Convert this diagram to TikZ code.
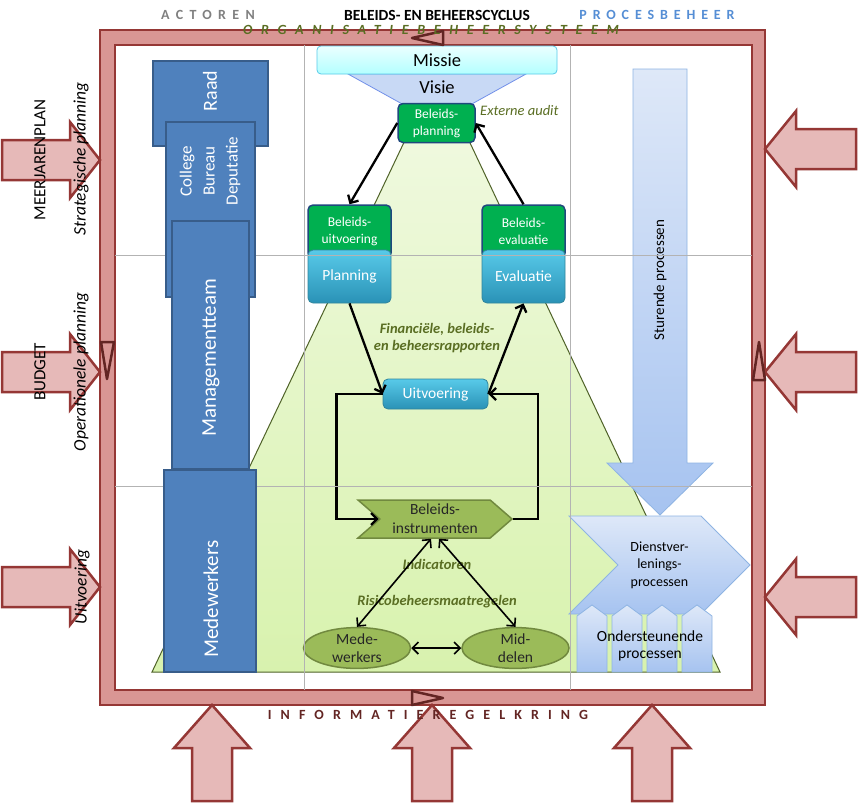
\documentclass[tikz,border=0pt]{standalone}
\usepackage{fontspec}
\setmainfont{Carlito}
\usetikzlibrary{arrows.meta, shapes.symbols, shapes.geometric}

\definecolor{kaderrood}{HTML}{D99694}
\definecolor{kaderrand}{HTML}{953735}
\definecolor{pijlroze}{HTML}{E6B9B8}
\definecolor{markrand}{HTML}{632523}
\definecolor{blokblauw}{HTML}{4F81BD}
\definecolor{blokrand}{HTML}{385D8A}
\definecolor{beleidsgroen}{HTML}{00B050}
\definecolor{beleidsrand}{HTML}{1F497D}
\definecolor{cyaanboven}{HTML}{58CAE9}
\definecolor{cyaanonder}{HTML}{2A92B6}
\definecolor{cyaanrand}{HTML}{31859C}
\definecolor{olijf}{HTML}{9BBB59}
\definecolor{olijfrand}{HTML}{71893F}
\definecolor{olijftekst}{HTML}{5A6E23}
\definecolor{lichtblauwboven}{HTML}{DEE8F8}
\definecolor{lichtblauwonder}{HTML}{A6C3F0}
\definecolor{lichtblauwrand}{HTML}{8EB4E3}
\definecolor{trapboven}{HTML}{F2FAE4}
\definecolor{trapbeneden}{HTML}{D8F2AE}
\definecolor{traprand}{HTML}{4F6228}
\definecolor{rasterlijn}{HTML}{B3B3B3}
\definecolor{procesblauw}{HTML}{558ED5}

\begin{document}
\begin{tikzpicture}[
    x=1pt, y=-1pt, % Work in pixels, y pointing down
    >={Straight Barb[length=6pt, width=12pt]}, % Default arrow tip
    cyclus/.style={->, line width=2.3pt}, % Black arrows of the cycle
    wissel/.style={<->, line width=1.6pt}, % Double arrows at the bottom
    grootpijl/.style={fill=pijlroze, draw=kaderrand, line width=2.5pt}, % Big arrows outside the frame
    merk/.style={fill=kaderrood, draw=markrand, line width=2.5pt, line join=round}, % Small triangles on the frame
    raster/.style={draw=rasterlijn, line width=1pt}, % Grid lines
    blok/.style={draw=blokrand, fill=blokblauw, line width=1.5pt, inner sep=0pt}, % Actor blocks
    bloktekst/.style={text=white, rotate=90, align=center, inner sep=0pt}, % Text on the actor blocks
    beleid/.style={draw=beleidsrand, fill=beleidsgroen, line width=1.5pt, rounded corners=5pt, text=white, align=center, inner sep=0pt, minimum width=83pt, font=\fontsize{13.5}{17}\selectfont}, % Green policy nodes
    fase/.style={top color=cyaanboven, bottom color=cyaanonder, draw=cyaanrand, line width=0.8pt, rounded corners=5pt, text=white, inner sep=0pt, font=\fontsize{15.5}{17}\selectfont}, % Blue phase nodes
    olijfvorm/.style={fill=olijf, draw=olijfrand, line width=1.5pt, align=center, inner sep=0pt, text=black!85}, % Olive shapes
    proces/.style={top color=lichtblauwboven, bottom color=lichtblauwonder, draw=lichtblauwrand, line width=0.8pt, inner sep=0pt}, % Light blue process shapes
    notitie/.style={olijftekst, font=\fontsize{14.5}{16.5}\selectfont\bfseries\itshape, align=center, inner sep=0pt}, % Italic remarks
    zijtekst/.style={rotate=90, inner sep=0pt, font=\fontsize{17}{20}\selectfont}, % Texts at the left
    kop/.style={inner sep=0pt, font=\fontsize{15.5}{17}\selectfont\bfseries} % Column headers
]

    % Canvas
    \useasboundingbox (0,0) rectangle (858,803);
    \fill[white] (0,0) rectangle (858,803);

    % Pink frame
    \fill[kaderrood, even odd rule] (100,30) rectangle (765,705) (115,45) rectangle (752,690);
    \draw[kaderrand, line width=1.5pt] (100,30) rectangle (765,705) (115,45) rectangle (752,690);

    % Green trapezium behind the cycle
    \shade[top color=trapboven, bottom color=trapbeneden, draw=traprand, line width=1pt] (437,73) -- (720,672) -- (152,672) -- cycle;

    % Mission and vision
    \draw[fill=lichtblauwboven!60!lichtblauwonder, draw=lichtblauwrand!80!blue, line width=0.8pt] (348,74) -- (526,74) -- (470,105) -- (404,105) -- cycle;
    \node[font=\fontsize{18.5}{20}\selectfont] (visie) at (437,87) {Visie};
    \node[top color=cyan!8, bottom color=cyan!30, draw=cyaanboven, line width=0.8pt, rounded corners=4pt, minimum width=240pt, minimum height=28pt, inner sep=0pt, font=\fontsize{18.5}{20}\selectfont] (missie) at (437,60) {Missie};

    % Policy cycle
    \node[beleid, minimum width=77pt, minimum height=39pt] (bplan) at (436.5,123) {Beleids-\\planning};
    \node[beleid, minimum height=53pt] (buitv) at (349.5,231.5) {Beleids-\\uitvoering};
    \node[beleid, minimum height=53pt] (beval) at (523.5,231.5) {Beleids-\\evaluatie};
    \node[fase, minimum width=83pt, minimum height=53pt] (planning) at (349.5,276.5) {Planning};
    \node[fase, minimum width=83pt, minimum height=53pt] (evaluatie) at (523.5,276.5) {Evaluatie};
    \node[fase, minimum width=105pt, minimum height=30pt] (uitv) at (435.5,394) {Uitvoering};
    \node[olijfvorm, signal, signal to=east, signal from=west, signal pointer angle=82, minimum width=154pt, minimum height=38pt, font=\fontsize{15.5}{19}\selectfont] (binstr) at (435,519) {Beleids-\\instrumenten};
    \node[olijfvorm, ellipse, minimum width=107pt, minimum height=40pt, font=\fontsize{15.5}{18}\selectfont] (mw) at (357,648) {Mede-\\werkers};
    \node[olijfvorm, ellipse, minimum width=107pt, minimum height=40pt, font=\fontsize{15.5}{18}\selectfont] (md) at (515.5,648) {Mid-\\delen};

    % Remarks
    \node[notitie, font=\fontsize{14.5}{16}\selectfont\itshape, anchor=west] (audit) at (480,111) {Externe audit};
    \node[notitie] (rapport) at (437,338) {Financiële, beleids-\\en beheersrapporten};
    \node[notitie] (indic) at (437,564) {Indicatoren};
    \node[notitie] (risico) at (437,602) {Risicobeheersmaatregelen};

    % Cycle arrows
    \draw[cyclus] (bplan.west) -- (buitv.north);
    \draw[cyclus] (beval.north) -- (bplan.east);
    \draw[cyclus] (planning.south) -- (uitv.west);
    \draw[cyclus] (uitv.east) -- (evaluatie.south);
    \draw[cyclus] (uitv.west) -- ++(-46,0) |- (binstr.west);
    \draw[cyclus] (binstr.east) -- ++(25,0) |- (uitv.east);
    \draw[wissel] ([xshift=-4pt]binstr.south) -- (mw.north);
    \draw[wissel] ([xshift=4pt]binstr.south) -- (md.north);
    \draw[wissel] (mw.east) -- (md.west);

    % Process column
    \shade[top color=lichtblauwboven, bottom color=lichtblauwonder, draw=lichtblauwrand, line width=0.8pt] (633,69) -- (687,69) -- (687,463) -- (713,463) -- (660,515) -- (607,463) -- (633,463) -- cycle;
    \node[rotate=90, inner sep=0pt, font=\fontsize{15}{16}\selectfont] (sturend) at (660,280) {Sturende processen};
    \node[proces, signal, signal to=east, signal from=west, signal pointer angle=90, minimum width=181pt, minimum height=98pt, align=center, font=\fontsize{14}{17.5}\selectfont] (dienst) at (659.5,565) {Dienstver-\\lenings-\\processen};
    \foreach \x [count=\i] in {592,627,662,697}
        \node[proces, signal, signal to=north, signal pointer angle=107, minimum width=30pt, minimum height=56pt] (onder\i) at (\x,644) {};
    \node[align=center, inner sep=0pt, font=\fontsize{15.5}{17}\selectfont] (ondertekst) at (650,646) {Ondersteunende\\processen};

    % Grid lines
    \draw[raster] (304,45) -- (304,690) (570,45) -- (570,690);
    \draw[raster] (115,255) -- (752,255) (115,486) -- (752,486);

    % Actor blocks
    \node[blok, minimum width=115pt, minimum height=85pt] (raad) at (210.5,103.5) {};
    \node[blok, minimum width=89pt, minimum height=175pt] (college) at (210.5,209.5) {};
    \node[blok, minimum width=77pt, minimum height=248pt] (mgmt) at (210.5,345) {};
    \node[blok, minimum width=92pt, minimum height=202pt] (medew) at (210,571) {};
    \node[bloktekst, font=\fontsize{20}{21}\selectfont] (raadtekst) at (210,91) {Raad};
    \node[bloktekst, font=\fontsize{17}{23}\selectfont] (collegetekst) at (210,171) {College\\Bureau\\Deputatie};
    \node[bloktekst, font=\fontsize{21}{22}\selectfont] (mgmttekst) at (211,358) {Managementteam};
    \node[bloktekst, font=\fontsize{21}{22}\selectfont] (medewtekst) at (211,599) {Medewerkers};

    % Big arrows around the frame
    \foreach \y in {160,372,587}
        \draw[grootpijl] (2,\y-20) -- (70,\y-20) -- (70,\y-38) -- (100,\y) -- (70,\y+38) -- (70,\y+20) -- (2,\y+20) -- cycle;
    \foreach \y in {149,372,597}
        \draw[grootpijl] (856,\y-20) -- (796,\y-20) -- (796,\y-38) -- (765,\y) -- (796,\y+38) -- (796,\y+20) -- (856,\y+20) -- cycle;
    \foreach \x in {212,432,652}
        \draw[grootpijl] (\x-20,801) -- (\x-20,748) -- (\x-38,748) -- (\x,705) -- (\x+38,748) -- (\x+20,748) -- (\x+20,801) -- cycle;

    % Direction marks on the frame
    \draw[merk] (443,31) -- (412,38) -- (443,45) -- cycle;
    \draw[merk] (101,342) -- (107,379) -- (114,342) -- cycle;
    \draw[merk] (753,380) -- (759,342) -- (765,380) -- cycle;
    \draw[merk] (412,691) -- (443,698) -- (412,705) -- cycle;

    % Left side texts
    \node[zijtekst] (meerjaren) at (40,160) {MEERJARENPLAN};
    \node[zijtekst, font=\fontsize{17.5}{20}\selectfont\itshape] (strat) at (81,159) {Strategische planning};
    \node[zijtekst] (budget) at (40,372) {BUDGET};
    \node[zijtekst, font=\fontsize{17.5}{20}\selectfont\itshape] (oper) at (81,372) {Operationele planning};
    \node[zijtekst, font=\fontsize{17.5}{20}\selectfont\itshape] (uitvlinks) at (82,587) {Uitvoering};

    % Headers
    \node[kop, black!50, font=\fontsize{14}{15}\selectfont\bfseries\addfontfeatures{LetterSpace=45}] (actoren) at (208,15) {ACTOREN};
    \node[kop] (cyclustitel) at (437,15) {BELEIDS- EN BEHEERSCYCLUS};
    \node[kop, procesblauw, font=\fontsize{14}{15}\selectfont\bfseries\addfontfeatures{LetterSpace=42}] (procesbeheer) at (657,15) {PROCESBEHEER};
    \node[kop, olijftekst, font=\fontsize{14}{15}\selectfont\bfseries\itshape\addfontfeatures{LetterSpace=62}] (orgsys) at (431,30) {ORGANISATIEBEHEERSYSTEEM};
    \node[kop, markrand, font=\fontsize{14}{15}\selectfont\bfseries\addfontfeatures{LetterSpace=65}] (infokring) at (428,715) {INFORMATIEREGELKRING};

\end{tikzpicture}
\end{document}
